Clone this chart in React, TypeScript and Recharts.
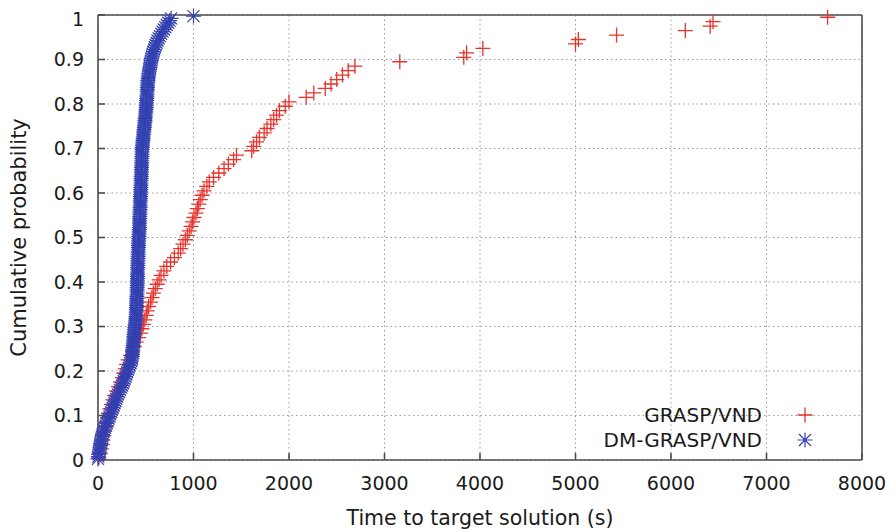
import React from "react";
import {
  ScatterChart,
  Scatter,
  XAxis,
  YAxis,
  CartesianGrid,
  Legend,
} from "recharts";

// ---- Data ----
const xTicks = [0, 1000, 2000, 3000, 4000, 5000, 6000, 7000, 8000];
const yTicks = [0, 0.1, 0.2, 0.3, 0.4, 0.5, 0.6, 0.7, 0.8, 0.9, 1];

const seriesNames = ["GRASP/VND", "DM-GRASP/VND"];

const redTime = [
  10, 25, 35, 45, 50, 60, 70, 80, 90, 100,
  110, 125, 140, 155, 175, 195, 215, 235, 255, 270,
  285, 300, 315, 340, 360, 380, 400, 425, 445, 460,
  475, 490, 505, 515, 530, 550, 565, 580, 600, 620,
  640, 660, 690, 720, 760, 800, 840, 865, 890, 915,
  935, 955, 975, 990, 1005, 1025, 1040, 1055, 1070, 1090,
  1110, 1140, 1165, 1210, 1265, 1320, 1365, 1420, 1450, 1610,
  1630, 1660, 1690, 1740, 1770, 1810, 1840, 1870, 1900, 1960,
  2000, 2180, 2260, 2380, 2440, 2500, 2560, 2620, 2690, 3160,
  3830, 3860, 4030, 5000, 5030, 5430, 6150, 6410, 6440, 7640,
];
const redProb = [
  0.005, 0.015, 0.025, 0.035, 0.045, 0.055, 0.065, 0.075, 0.085, 0.095,
  0.105, 0.115, 0.125, 0.135, 0.145, 0.155, 0.165, 0.175, 0.185, 0.195,
  0.205, 0.215, 0.225, 0.235, 0.245, 0.255, 0.265, 0.275, 0.285, 0.295,
  0.305, 0.315, 0.325, 0.335, 0.345, 0.355, 0.365, 0.375, 0.385, 0.395,
  0.405, 0.415, 0.425, 0.435, 0.445, 0.455, 0.465, 0.475, 0.485, 0.495,
  0.505, 0.515, 0.525, 0.535, 0.545, 0.555, 0.565, 0.575, 0.585, 0.595,
  0.605, 0.615, 0.625, 0.635, 0.645, 0.655, 0.665, 0.675, 0.685, 0.695,
  0.705, 0.715, 0.725, 0.735, 0.745, 0.755, 0.765, 0.775, 0.785, 0.795,
  0.805, 0.815, 0.825, 0.835, 0.845, 0.855, 0.865, 0.875, 0.885, 0.895,
  0.905, 0.915, 0.925, 0.935, 0.945, 0.955, 0.965, 0.975, 0.985, 0.995,
];

const blueTime = [
  0, 4, 8, 12, 16, 20, 25, 29, 33, 37,
  42, 47, 55, 64, 73, 82, 92, 101, 110, 120,
  128, 137, 146, 155, 164, 173, 182, 191, 200, 210,
  221, 231, 241, 252, 262, 270, 279, 288, 297, 306,
  314, 322, 331, 340, 348, 356, 358, 360, 362, 364,
  366, 368, 370, 372, 374, 376, 377, 380, 383, 386,
  389, 392, 394, 396, 398, 399, 400, 401, 402, 403,
  404, 405, 406, 407, 408, 409, 410, 410, 411, 412,
  412, 413, 414, 414, 415, 416, 416, 417, 418, 418,
  419, 420, 421, 421, 422, 423, 424, 425, 426, 428,
  429, 430, 431, 432, 433, 434, 435, 436, 437, 437,
  438, 439, 440, 441, 442, 442, 443, 444, 445, 446,
  447, 448, 448, 449, 450, 451, 452, 453, 454, 455,
  455, 456, 457, 458, 459, 459, 460, 461, 461, 462,
  464, 466, 468, 471, 473, 475, 478, 480, 482, 485,
  487, 490, 492, 494, 497, 499, 501, 503, 505, 506,
  508, 509, 511, 512, 514, 515, 517, 518, 520, 521,
  523, 525, 528, 532, 536, 540, 544, 548, 552, 557,
  561, 566, 572, 580, 588, 596, 605, 614, 623, 635,
  648, 662, 676, 690, 705, 720, 735, 750, 765, 1000,
];
const blueProb = [
  0.0025, 0.0075, 0.0125, 0.0175, 0.0225, 0.0275, 0.0325, 0.0375, 0.0425, 0.0475,
  0.0525, 0.0575, 0.0625, 0.0675, 0.0725, 0.0775, 0.0825, 0.0875, 0.0925, 0.0975,
  0.1025, 0.1075, 0.1125, 0.1175, 0.1225, 0.1275, 0.1325, 0.1375, 0.1425, 0.1475,
  0.1525, 0.1575, 0.1625, 0.1675, 0.1725, 0.1775, 0.1825, 0.1875, 0.1925, 0.1975,
  0.2025, 0.2075, 0.2125, 0.2175, 0.2225, 0.2275, 0.2325, 0.2375, 0.2425, 0.2475,
  0.2525, 0.2575, 0.2625, 0.2675, 0.2725, 0.2775, 0.2825, 0.2875, 0.2925, 0.2975,
  0.3025, 0.3075, 0.3125, 0.3175, 0.3225, 0.3275, 0.3325, 0.3375, 0.3425, 0.3475,
  0.3525, 0.3575, 0.3625, 0.3675, 0.3725, 0.3775, 0.3825, 0.3875, 0.3925, 0.3975,
  0.4025, 0.4075, 0.4125, 0.4175, 0.4225, 0.4275, 0.4325, 0.4375, 0.4425, 0.4475,
  0.4525, 0.4575, 0.4625, 0.4675, 0.4725, 0.4775, 0.4825, 0.4875, 0.4925, 0.4975,
  0.5025, 0.5075, 0.5125, 0.5175, 0.5225, 0.5275, 0.5325, 0.5375, 0.5425, 0.5475,
  0.5525, 0.5575, 0.5625, 0.5675, 0.5725, 0.5775, 0.5825, 0.5875, 0.5925, 0.5975,
  0.6025, 0.6075, 0.6125, 0.6175, 0.6225, 0.6275, 0.6325, 0.6375, 0.6425, 0.6475,
  0.6525, 0.6575, 0.6625, 0.6675, 0.6725, 0.6775, 0.6825, 0.6875, 0.6925, 0.6975,
  0.7025, 0.7075, 0.7125, 0.7175, 0.7225, 0.7275, 0.7325, 0.7375, 0.7425, 0.7475,
  0.7525, 0.7575, 0.7625, 0.7675, 0.7725, 0.7775, 0.7825, 0.7875, 0.7925, 0.7975,
  0.8025, 0.8075, 0.8125, 0.8175, 0.8225, 0.8275, 0.8325, 0.8375, 0.8425, 0.8475,
  0.8525, 0.8575, 0.8625, 0.8675, 0.8725, 0.8775, 0.8825, 0.8875, 0.8925, 0.8975,
  0.9025, 0.9075, 0.9125, 0.9175, 0.9225, 0.9275, 0.9325, 0.9375, 0.9425, 0.9475,
  0.9525, 0.9575, 0.9625, 0.9675, 0.9725, 0.9775, 0.9825, 0.9875, 0.9925, 0.9975,
];

const redData = redTime.map((x, i) => ({ x, y: redProb[i] }));
const blueData = blueTime.map((x, i) => ({ x, y: blueProb[i] }));

// ---- Styles ----
const RED = "#e8322b";
const BLUE = "#3340b0";
const BORDER = "#4d4d4d";
const TEXT = "#1a1a1a";
const FONT = "'DejaVu Sans', sans-serif";

const PlusMark = ({ cx, cy }: any) => (
  <path
    d={`M${cx - 7.5},${cy}H${cx + 7.5}M${cx},${cy - 7.5}V${cy + 7.5}`}
    stroke={RED}
    strokeWidth={1.3}
    fill="none"
  />
);

const StarMark = ({ cx, cy }: any) => (
  <path
    d={`M${cx - 7.5},${cy}H${cx + 7.5}M${cx},${cy - 7.5}V${cy + 7.5}M${cx - 6},${cy - 6}L${cx + 6},${cy + 6}M${cx - 6},${cy + 6}L${cx + 6},${cy - 6}`}
    stroke={BLUE}
    strokeWidth={1.2}
    fill="none"
  />
);

const LegendBox = () => (
  <svg width={300} height={60} style={{ display: "block", overflow: "visible" }}>
    <text x={214} y={17} textAnchor="end" dominantBaseline="central" fontSize={20} fill={TEXT} fontFamily={FONT}>
      {seriesNames[0]}
    </text>
    <PlusMark cx={257} cy={17} />
    <text x={214} y={42} textAnchor="end" dominantBaseline="central" fontSize={20} fill={TEXT} fontFamily={FONT}>
      {seriesNames[1]}
    </text>
    <StarMark cx={257} cy={42} />
  </svg>
);

const tickStyle = { fontSize: 19, fill: TEXT, fontFamily: FONT };

export default function App() {
  return (
    <div style={{ width: 886, height: 524, background: "#fff" }}>
      <ScatterChart
        width={886}
        height={524}
        margin={{ top: 6, right: 31, bottom: 0, left: 0 }}
        style={{ fontFamily: FONT }}
      >
        <CartesianGrid
          stroke="#9a9a9a"
          strokeDasharray="1.5 3"
          strokeWidth={1}
        />
        <XAxis
          xAxisId="top"
          orientation="top"
          type="number"
          dataKey="x"
          domain={[0, 8000]}
          ticks={xTicks}
          height={1}
          tick={false}
          tickSize={-7}
          stroke={BORDER}
          strokeWidth={1.6}
        />
        <YAxis
          yAxisId="right"
          orientation="right"
          type="number"
          dataKey="y"
          domain={[0, 1]}
          ticks={yTicks}
          width={1}
          tick={false}
          tickSize={-7}
          stroke={BORDER}
          strokeWidth={1.6}
        />
        <XAxis
          type="number"
          dataKey="x"
          domain={[0, 8000]}
          ticks={xTicks}
          height={72}
          tickSize={-7}
          tickMargin={24}
          tick={tickStyle}
          stroke={BORDER}
          strokeWidth={1.6}
          label={{
            value: "Time to target solution (s)",
            position: "insideBottom",
            offset: 7,
            style: { fontSize: 20.5, fill: TEXT, fontFamily: FONT },
          }}
        />
        <YAxis
          type="number"
          dataKey="y"
          domain={[0, 1]}
          ticks={yTicks}
          width={90}
          tickSize={-7}
          tickMargin={21}
          tick={tickStyle}
          stroke={BORDER}
          strokeWidth={1.6}
          label={{
            value: "Cumulative probability",
            angle: -90,
            position: "insideLeft",
            offset: 11,
            style: { fontSize: 21, fill: TEXT, fontFamily: FONT, textAnchor: "middle" },
          }}
        />
        <Legend
          layout="vertical"
          align="center"
          verticalAlign="middle"
          wrapperStyle={{ left: 540, top: 390, width: 300, height: 60 }}
          content={() => <LegendBox />}
        />
        <Scatter
          name={seriesNames[0]}
          data={redData}
          shape={(p: any) => <PlusMark cx={p.cx} cy={p.cy} />}
          isAnimationActive={false}
        />
        <Scatter
          name={seriesNames[1]}
          data={blueData}
          shape={(p: any) => <StarMark cx={p.cx} cy={p.cy} />}
          isAnimationActive={false}
        />
      </ScatterChart>
    </div>
  );
}
